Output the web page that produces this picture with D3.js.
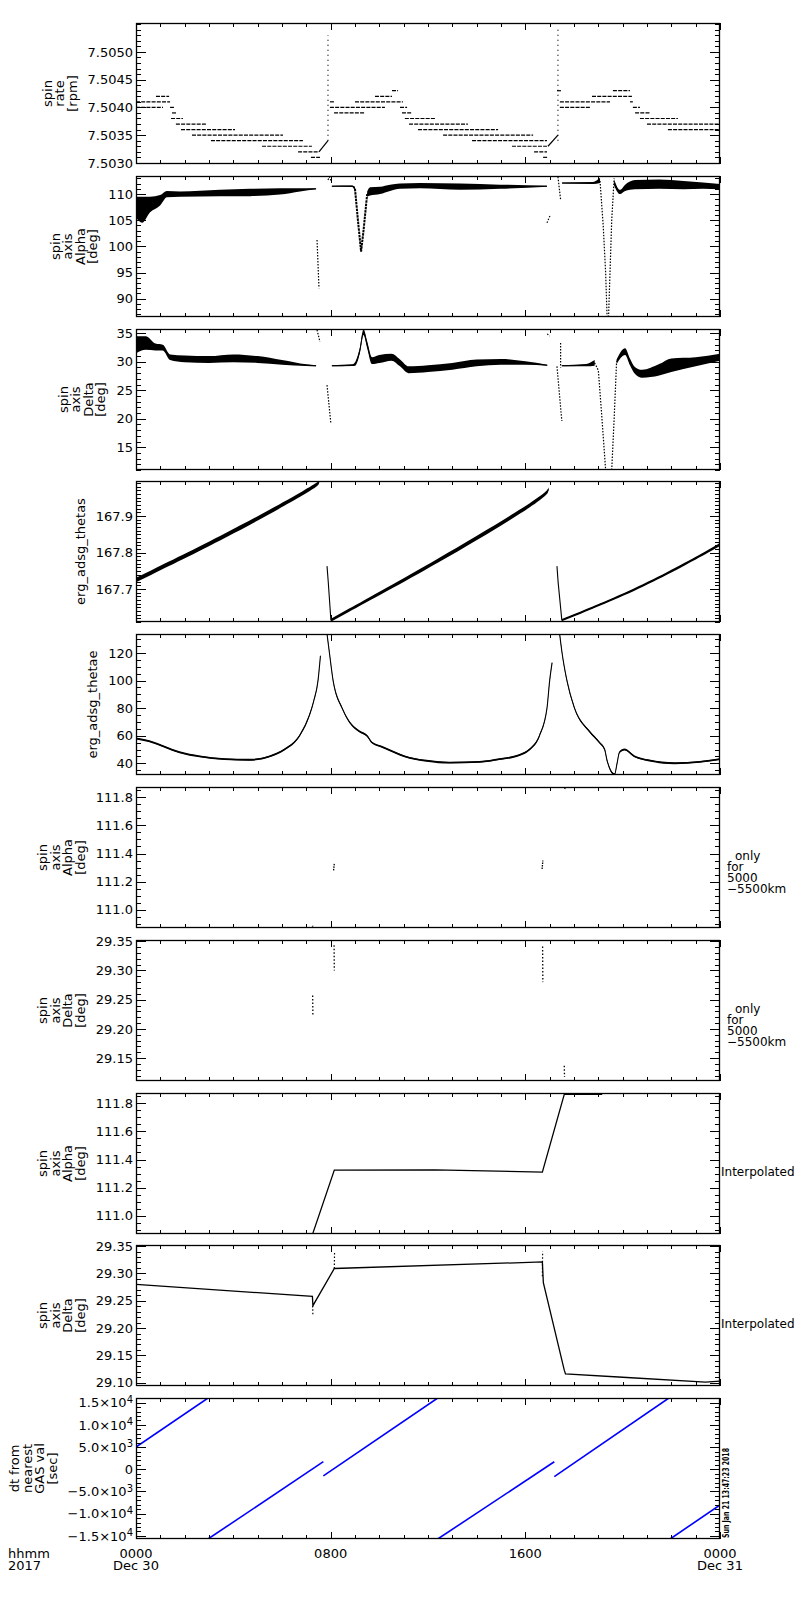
<!DOCTYPE html>
<html>
<head>
<meta charset="utf-8">
<script src="https://cdn.jsdelivr.net/npm/d3@7"></script>
<style>
  body { margin: 0; background: #fff; }
  text { font-family: "DejaVu Sans", sans-serif; }
</style>
</head>
<body>
<div id="chart"></div>
<script>
// ---- data (hours since 2017-12-30 00:00) ----
const hourTicks = [0, 8, 16, 24];
const hourLabels = ["0000", "0800", "1600", "0000"];
const dayLabels = ["Dec 30", "", "", "Dec 31"];

// spin rate: [level rpm, start h, end h]
const rateSteps = [
  [7.5042, 0.82, 1.36], [7.5041, 0, 1.40], [7.5040, 0, 1.11], [7.5040, 1.40, 1.56],
  [7.5039, 1.48, 1.68], [7.5038, 1.44, 1.93], [7.5037, 1.64, 2.88], [7.5036, 1.85, 4.07],
  [7.5035, 2.30, 6.04], [7.5034, 3.08, 6.86], [7.5033, 5.18, 7.23], [7.5032, 6.66, 7.52],
  [7.5031, 7.19, 7.56],
  [7.5041, 7.97, 8.18], [7.5041, 9.0, 10.97], [7.5040, 7.97, 10.23], [7.5040, 10.85, 11.14],
  [7.5039, 8.14, 9.41], [7.5039, 10.93, 11.34], [7.5042, 9.82, 10.52], [7.5043, 10.52, 10.77],
  [7.5038, 11.05, 12.29], [7.5037, 11.22, 13.64], [7.5036, 11.59, 14.88], [7.5035, 12.62, 16.32],
  [7.5034, 13.81, 16.89], [7.5033, 15.45, 16.89], [7.5032, 16.36, 16.89], [7.5031, 16.73, 16.93],
  [7.5043, 17.30, 17.51], [7.5041, 17.42, 19.48], [7.5040, 17.42, 18.66], [7.5042, 18.74, 20.38],
  [7.5043, 19.60, 20.30], [7.5041, 20.30, 20.42], [7.5040, 20.42, 20.71], [7.5039, 20.51, 21.12],
  [7.5038, 20.71, 22.27], [7.5037, 21.0, 24], [7.5036, 21.86, 24]
];
const rateRamps = [
  [[7.52, 7.5032], [7.89, 7.5034]],
  [[16.93, 7.5033], [17.34, 7.5035]]
];
const rateSpikes = [
  [[7.89, 7.5034], [7.89, 7.5053]],
  [[17.34, 7.5034], [17.34, 7.5054]]
];

// spin axis alpha: dense bands [h, value, half spread] and sparse traces [h, value]
const alphaBand = [
  [[0, 107.5, 2], [0.25, 107, 2.5], [0.58, 108, 1.5], [0.99, 108.8, 1], [1.27, 110, 0.6],
   [1.81, 110, 0.5], [3.45, 110.2, 0.6], [4.68, 110.3, 0.7], [5.92, 110.5, 0.6],
   [6.74, 110.8, 0.3], [7.40, 111, 0.1]],
  [[8.05, 111.5, 0.1], [8.88, 111.5, 0.15], [9.0, 111, 0.4]],
  [[9.5, 110, 0.5], [9.62, 110.5, 0.8], [10.03, 110.7, 0.7], [10.44, 111.2, 0.6],
   [10.85, 111.5, 0.5], [11.67, 111.6, 0.5], [13.32, 111.4, 0.6], [14.96, 111.4, 0.4],
   [16.89, 111.5, 0.1]],
  [[17.51, 112.1, 0.1], [18.78, 112.1, 0.2], [19.07, 112.6, 0.5]],
  [[19.65, 112.2, 0.6], [19.89, 110.4, 0.4], [20.1, 111.2, 0.6], [20.5, 111.8, 0.9],
   [21.5, 111.9, 0.9], [22.5, 111.7, 0.8], [23.3, 111.6, 0.6], [24, 111.4, 0.5]]
];
const alphaDip = [[9.0, 111], [9.12, 105], [9.25, 99], [9.35, 103], [9.5, 110]];
const alphaSparse = [
  [[7.44, 101.2], [7.52, 92.0]],
  [[7.89, 112.7], [7.95, 113.3], [8.01, 112.6]],
  [[16.89, 104.5], [17.01, 105.8]],
  [[17.34, 113.3], [17.45, 108.9]],
  [[19.07, 112.5], [19.2, 104], [19.3, 95], [19.36, 86.5]],
  [[19.42, 86.5], [19.48, 95], [19.55, 105], [19.65, 113]]
];

// spin axis delta
const deltaBand = [
  [[0, 33, 1.5], [0.4, 33.3, 1.2], [0.8, 32.6, 0.6], [1.1, 32.5, 0.5], [1.4, 30.8, 0.5],
   [2, 30.5, 0.6], [3, 30.4, 0.6], [4, 30.6, 0.7], [5, 30.4, 0.6], [6, 29.9, 0.4],
   [7, 29.4, 0.15], [7.4, 29.3, 0.1]],
  [[8.05, 29.3, 0.1], [8.9, 29.4, 0.15], [9.0, 29.6, 0.3], [9.2, 32, 0.5], [9.35, 35.2, 0.5],
   [9.5, 33, 0.6], [9.7, 30.2, 0.6], [10.0, 30.5, 0.7], [10.5, 30.8, 0.6], [10.85, 29.8, 0.6],
   [11.2, 28.6, 0.6], [12, 28.8, 0.6], [13, 29.2, 0.6], [14, 29.8, 0.6], [15, 30.0, 0.5],
   [16, 29.8, 0.3], [16.9, 29.4, 0.1]],
  [[17.5, 29.3, 0.1], [18.5, 29.4, 0.2], [18.85, 29.8, 0.5]],
  [[19.75, 30, 0.4], [20.1, 31.8, 0.6], [20.3, 30, 0.6], [20.5, 28.5, 0.6], [20.8, 27.9, 0.7],
   [21.5, 28.6, 1], [22, 29.4, 1.2], [23, 30.0, 0.8], [24, 30.8, 0.6]]
];
const deltaSparse = [
  [[7.44, 35.6], [7.56, 33.5]],
  [[7.85, 25.9], [8.01, 19.1]],
  [[16.9, 34.9], [17.0, 34.5]],
  [[17.3, 29.2], [17.5, 19.6]],
  [[17.45, 33.3], [17.45, 29]],
  [[18.85, 29.8], [19.0, 28.5], [19.15, 20], [19.3, 11]],
  [[19.55, 11], [19.65, 20], [19.75, 30]]
];

// erg_adsg_thetas
const thetasBand = [
  [[0, 167.725, 0.006], [3.7, 167.845, 0.006], [7.44, 167.983, 0.006], [7.52, 167.993, 0.004]],
  [[8.01, 167.615, 0.004], [12.4, 167.775, 0.006], [16.89, 167.955, 0.006], [16.95, 167.975, 0.004]],
  [[17.5, 167.615, 0.003], [20.9, 167.707, 0.0035], [24, 167.822, 0.004]]
];
const thetasDrops = [
  [[7.85, 167.763], [7.9, 167.72], [8.01, 167.615]],
  [[17.3, 167.763], [17.35, 167.717], [17.5, 167.615]]
];

// erg_adsg_thetae
const thetaeLines = [
  [[0, 58], [0.55, 56], [1.17, 52], [1.79, 48], [2.61, 45], [3.64, 43], [4.66, 42.5], [5.49, 45],
   [6.1, 50], [6.72, 60], [7.13, 75], [7.3, 85], [7.48, 100], [7.58, 118]],
  [[7.85, 133.8], [7.95, 120], [8.1, 100], [8.47, 80], [8.77, 70], [9.19, 63], [9.49, 60], [9.7, 55],
   [10.1, 52], [10.62, 48], [11.04, 45], [11.86, 42], [12.88, 40.5], [14.12, 41], [14.94, 43],
   [15.76, 46], [16.17, 50], [16.58, 60], [16.89, 80], [17.0, 100], [17.1, 113]],
  [[17.41, 133.8], [17.51, 120], [17.71, 100], [18.02, 80], [18.64, 63], [19.05, 55], [19.26, 50],
   [19.36, 42], [19.5, 35], [19.67, 32], [19.77, 40], [19.87, 48], [20.07, 50], [20.49, 45],
   [21.1, 42], [22.13, 40], [23.16, 41], [24, 43]]
];

// alpha / delta only for 5000-5500km
const alphaSel = [
  [[7.25, 110.87], [7.27, 110.89]], [[8.12, 111.28], [8.15, 111.33]],
  [[16.69, 111.29], [16.72, 111.35]], [[17.62, 111.86], [17.65, 111.88]]
];
const deltaSel = [
  [[7.26, 29.257], [7.27, 29.223]], [[8.14, 29.343], [8.15, 29.30]],
  [[16.71, 29.341], [16.72, 29.28]], [[17.6, 29.137], [17.61, 29.118]]
];

// interpolated
const alphaInterp = [[7.26, 110.87], [8.15, 111.324], [12.29, 111.326], [16.70, 111.31],
  [17.60, 111.864], [19.16, 111.865]];
const deltaInterp = [[0, 29.280], [7.25, 29.258], [7.27, 29.241], [8.15, 29.309], [16.70, 29.321],
  [16.74, 29.283], [17.6, 29.123], [17.65, 29.116], [20.0, 29.110], [23.4, 29.101], [24, 29.103]];
const deltaInterpMarks = [
  [[7.26, 29.241], [7.27, 29.223]], [[8.15, 29.309], [8.16, 29.340]], [[16.70, 29.295], [16.71, 29.34]]
];

// dt from nearest GAS val [sec]
const dtSegs = [
  [[0, 5000], [2.96, 16050]],
  [[2.96, -15700], [7.70, 1710]],
  [[7.70, -1500], [12.4, 16050]],
  [[12.4, -15700], [17.19, 1700]],
  [[17.19, -1650], [21.9, 16050]],
  [[21.95, -15700], [24, -8030]]
];

// axis ticks
const rateTicks = [7.5030, 7.5035, 7.5040, 7.5045, 7.5050];
const alphaTicks = [90, 95, 100, 105, 110];
const deltaTicks = [15, 20, 25, 30, 35];
const thetasTicks = [167.7, 167.8, 167.9];
const thetaeTicks = [40, 60, 80, 100, 120];
const alphaSelTicks = [111.0, 111.2, 111.4, 111.6, 111.8];
const deltaSelTicks = [29.15, 29.20, 29.25, 29.30, 29.35];
const deltaInterpTicks = [29.10, 29.15, 29.20, 29.25, 29.30, 29.35];
const dtTicks = [-15000, -10000, -5000, 0, 5000, 10000, 15000];

const stamp = "Sun Jan 21 13:47:23 2018";

// ---- layout ----
const W = 800, H = 1600;
const X0 = 136, X1 = 720, panelH = 141;
const tops = d3.range(10).map(i => Math.round(23 + i * 152.8));

const svg = d3.select("#chart").append("svg")
  .attr("width", W).attr("height", H).attr("viewBox", `0 0 ${W} ${H}`);
svg.append("rect").attr("width", W).attr("height", H).attr("fill", "white");

const x = d3.scaleLinear().domain([0, 24]).range([X0, X1]);

function lineOf(y, curve) {
  return d3.line().x(d => x(d[0])).y(d => y(d[1])).curve(curve || d3.curveLinear);
}
function bandOf(y, curve) {
  return d3.area().x(d => x(d[0])).y0(d => y(d[1] - d[2])).y1(d => y(d[1] + d[2])).curve(curve);
}
// dense scatter drawn as a filled band round its centre line
function drawBands(g, y, bands, sw, curve) {
  const c = curve || d3.curveMonotoneX;
  bands.forEach(b => {
    g.append("path").attr("d", bandOf(y, c)(b)).attr("fill", "black");
    g.append("path").attr("d", lineOf(y, c)(b)).attr("fill", "none")
      .attr("stroke", "black").attr("stroke-width", sw || 1);
  });
}
function drawLines(g, y, lines, sw, dash, color) {
  lines.forEach(l => {
    g.append("path").attr("d", lineOf(y)(l)).attr("fill", "none")
      .attr("stroke", color || "black").attr("stroke-width", sw)
      .attr("stroke-dasharray", dash || null);
  });
}

function supLabel(v) {
  if (v === 0) return ["0", ""];
  const e = Math.floor(Math.log10(Math.abs(v)));
  const m = v / Math.pow(10, e);
  return [(m < 0 ? "\u2212" : "") + Math.abs(m).toFixed(1) + "\u00d710", String(e)];
}

const panels = [
  { domain: [7.50298, 7.50552], major: rateTicks, minor: 0.0001, fmt: d3.format(".4f"),
    title: ["spin", "rate", "[rpm]"],
    draw: (g, y) => {
      rateSteps.forEach(s => {
        g.append("line").attr("x1", x(s[1])).attr("x2", x(s[2])).attr("y1", y(s[0])).attr("y2", y(s[0]))
          .attr("stroke", "black").attr("stroke-width", 1.2).attr("stroke-dasharray", "4,1.2");
      });
      drawLines(g, y, rateRamps, 1.2);
      drawLines(g, y, rateSpikes, 1.2, "1,4");
    } },
  { domain: [86.5, 113.45], major: alphaTicks, minor: 1, fmt: d3.format("d"),
    title: ["spin", "axis", "Alpha", "[deg]"],
    draw: (g, y) => {
      drawBands(g, y, alphaBand);
      drawLines(g, y, [alphaDip], 2, "2.5,0.8");
      drawLines(g, y, alphaSparse, 1.2, "1.5,1.5");
    } },
  { domain: [11, 35.76], major: deltaTicks, minor: 1, fmt: d3.format("d"),
    title: ["spin", "axis", "Delta", "[deg]"],
    draw: (g, y) => { drawBands(g, y, deltaBand); drawLines(g, y, deltaSparse, 1.2, "1.5,1.5"); } },
  { domain: [167.61, 167.996], major: thetasTicks, minor: 0.01, fmt: d3.format(".1f"),
    title: ["erg_adsg_thetas"],
    draw: (g, y) => { drawBands(g, y, thetasBand, 1, d3.curveBasis); drawLines(g, y, thetasDrops, 1.1); } },
  { domain: [31.5, 133.8], major: thetaeTicks, minor: 5, fmt: d3.format("d"),
    title: ["erg_adsg_thetae"],
    draw: (g, y) => {
      drawBands(g, y, thetaeLines.map(l => l.map(d => [d[0], d[1], 0.7])), 1.1);
    } },
  { domain: [110.869, 111.874], major: alphaSelTicks, minor: 0.05, fmt: d3.format(".1f"),
    title: ["spin", "axis", "Alpha", "[deg]"], note: ["only", "for", "5000", "\u22125500km"],
    draw: (g, y) => drawLines(g, y, alphaSel, 1.3, "1.5,1") },
  { domain: [29.111, 29.352], major: deltaSelTicks, minor: 0.01, fmt: d3.format(".2f"),
    title: ["spin", "axis", "Delta", "[deg]"], note: ["only", "for", "5000", "\u22125500km"],
    draw: (g, y) => drawLines(g, y, deltaSel, 1.3, "1.5,2") },
  { domain: [110.869, 111.874], major: alphaSelTicks, minor: 0.05, fmt: d3.format(".1f"),
    title: ["spin", "axis", "Alpha", "[deg]"], note: ["Interpolated"],
    draw: (g, y) => drawLines(g, y, [alphaInterp], 1.3) },
  { domain: [29.094, 29.352], major: deltaInterpTicks, minor: 0.01, fmt: d3.format(".2f"),
    title: ["spin", "axis", "Delta", "[deg]"], note: ["Interpolated"],
    draw: (g, y) => { drawLines(g, y, [deltaInterp], 1.3); drawLines(g, y, deltaInterpMarks, 1.2, "1.5,2"); } },
  { domain: [-15700, 16050], major: dtTicks, minor: 1000, fmt: d => d, sup: true,
    title: ["dt from", "nearest", "GAS val", "[sec]"],
    draw: (g, y) => drawLines(g, y, dtSegs, 1.6, null, "#0000ff") }
];

function minorValues(domain, step, major) {
  const lo = Math.ceil(domain[0] / step - 1e-6), hi = Math.floor(domain[1] / step + 1e-6);
  return d3.range(lo, hi + 1).map(k => +(k * step).toFixed(6))
    .filter(v => !major.some(m => Math.abs(m - v) < step / 10));
}
const hourMinor = d3.range(0, 25).filter(h => h % 8 !== 0);

function styleAxis(g) {
  g.select(".domain").remove();
  g.attr("font-size", 13).attr("font-family", "DejaVu Sans");
  g.selectAll("line").attr("stroke", "black").attr("shape-rendering", "crispEdges");
  g.selectAll("text").attr("fill", "black");
}

panels.forEach((p, i) => {
  const top = tops[i], bottom = top + panelH, mid = top + panelH / 2;
  const y = d3.scaleLinear().domain(p.domain).range([bottom, top]);
  const g = svg.append("g");

  g.append("clipPath").attr("id", "clip" + i)
    .append("rect").attr("x", X0).attr("y", top).attr("width", X1 - X0).attr("height", panelH);
  const dg = g.append("g").attr("clip-path", `url(#clip${i})`);
  p.draw(dg, y);

  const minors = minorValues(p.domain, p.minor, p.major);
  const left = g.append("g").attr("transform", `translate(${X0},0)`)
    .call(d3.axisLeft(y).tickValues(p.major).tickSizeInner(-10).tickSizeOuter(0).tickPadding(3).tickFormat(p.fmt))
    .call(styleAxis);
  if (p.sup) {
    left.selectAll("text").each(function(d) {
      const t = d3.select(this).text(null);
      const [base, ex] = supLabel(d);
      t.append("tspan").text(base);
      if (ex) t.append("tspan").attr("dy", "-0.45em").attr("font-size", 10).text(ex);
    });
  }
  g.append("g").attr("transform", `translate(${X0},0)`)
    .call(d3.axisLeft(y).tickValues(minors).tickSizeInner(-5).tickSizeOuter(0).tickFormat(""))
    .call(styleAxis);
  g.append("g").attr("transform", `translate(${X1},0)`)
    .call(d3.axisRight(y).tickValues(p.major).tickSizeInner(-10).tickSizeOuter(0).tickFormat(""))
    .call(styleAxis);
  g.append("g").attr("transform", `translate(${X1},0)`)
    .call(d3.axisRight(y).tickValues(minors).tickSizeInner(-5).tickSizeOuter(0).tickFormat(""))
    .call(styleAxis);

  [[d3.axisTop, top], [d3.axisBottom, bottom]].forEach(([ax, yy]) => {
    g.append("g").attr("transform", `translate(0,${yy})`)
      .call(ax(x).tickValues(hourTicks).tickSizeInner(-7).tickSizeOuter(0).tickFormat(""))
      .call(styleAxis);
    g.append("g").attr("transform", `translate(0,${yy})`)
      .call(ax(x).tickValues(hourMinor).tickSizeInner(-4).tickSizeOuter(0).tickFormat(""))
      .call(styleAxis);
  });

  g.append("rect").attr("x", X0 + 0.5).attr("y", top + 0.5).attr("width", X1 - X0 - 1).attr("height", panelH - 1)
    .attr("fill", "none").attr("stroke", "black").attr("stroke-width", 1.3);

  // y title, placed left of the widest tick label
  const bb = left.node().getBBox();
  const lh = 12.5;
  const lastX = X0 + bb.x - 11;
  const tt = g.append("text")
    .attr("transform", `translate(${lastX - (p.title.length - 1) * lh},${mid}) rotate(-90)`)
    .attr("text-anchor", "middle").attr("font-size", 13).attr("fill", "black");
  p.title.forEach((s, k) => tt.append("tspan").attr("x", 0).attr("dy", k === 0 ? 0 : lh).text(s));

  if (p.note) {
    const nt = g.append("text").attr("font-size", 12).attr("fill", "black");
    if (p.note.length === 1) {
      nt.attr("x", X1 + 1).attr("y", mid + 12).text(p.note[0]);
    } else {
      p.note.forEach((s, k) => nt.append("tspan")
        .attr("x", k === 0 ? X1 + 15 : X1 + 7).attr("y", mid + 2 + k * 11).text(s));
    }
  }
});

// bottom time labels
const lastBottom = tops[9] + panelH;
hourTicks.forEach((h, k) => {
  svg.append("text").attr("x", x(h)).attr("y", lastBottom + 19).attr("text-anchor", "middle")
    .attr("font-size", 13).text(hourLabels[k]);
  if (dayLabels[k]) {
    svg.append("text").attr("x", x(h)).attr("y", lastBottom + 31).attr("text-anchor", "middle")
      .attr("font-size", 13).text(dayLabels[k]);
  }
});
svg.append("text").attr("x", 8).attr("y", lastBottom + 19).attr("font-size", 13).text("hhmm");
svg.append("text").attr("x", 8).attr("y", lastBottom + 31).attr("font-size", 13).text("2017");

// creation stamp
svg.append("text")
  .attr("transform", `translate(729,${tops[9] + 95}) rotate(-90)`)
  .attr("text-anchor", "middle").attr("font-size", 8).attr("font-weight", "bold")
  .attr("textLength", 90).attr("lengthAdjust", "spacingAndGlyphs")
  .text(stamp);
</script>
</body>
</html>
